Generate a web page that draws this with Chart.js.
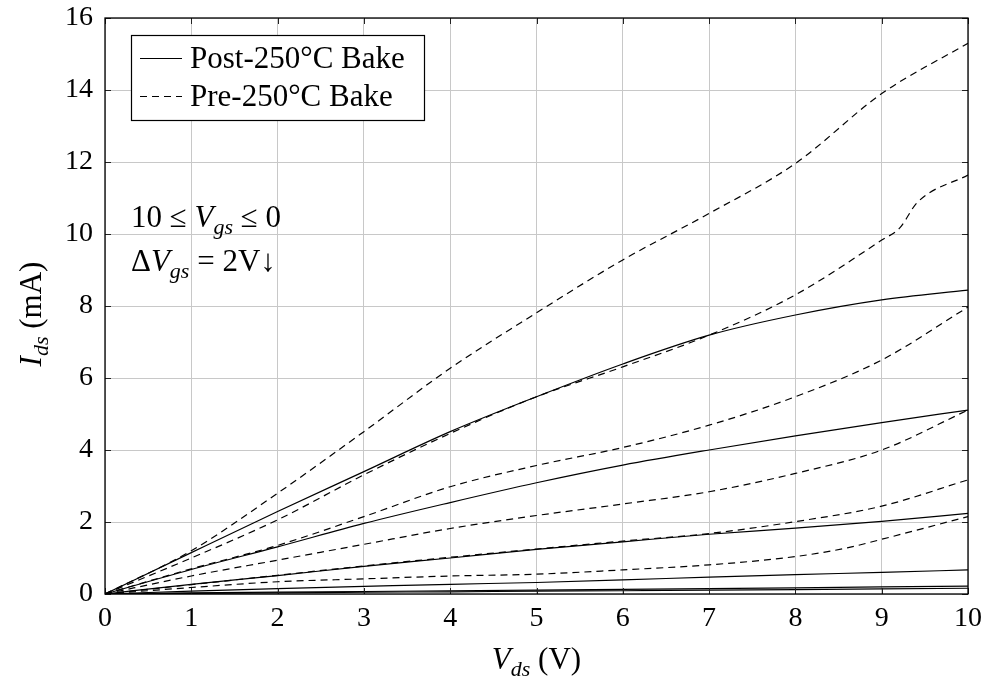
<!DOCTYPE html>
<html>
<head>
<meta charset="utf-8">
<script src="https://cdn.jsdelivr.net/npm/chart.js@4.4.0/dist/chart.umd.min.js"></script>
<style>
  html, body { margin: 0; padding: 0; background: #fff; }
</style>
</head>
<body>
<canvas id="grafik" width="989" height="678"></canvas>
<script>
// Tegangan drain-source (V)
const vds = [0, 1, 2, 3, 4, 5, 6, 7, 8, 9, 10];
const vdsPre2 = [0, 1, 2, 3, 4, 5, 6, 7, 8, 9, 9.21, 9.41, 10];
const vdsPre10 = [0, 1, 2, 3, 4, 5, 6, 7, 8, 8.6, 9, 10];

// Setelah bake 250°C (garis penuh), Vgs = 0, -2, ... -10
const post0 = [0, 1.15, 2.29, 3.40, 4.51, 5.48, 6.39, 7.19, 7.75, 8.17, 8.44];
const post2 = [0, 0.68, 1.31, 1.96, 2.54, 3.09, 3.58, 4.00, 4.39, 4.76, 5.11];
const post4 = [0, 0.27, 0.51, 0.77, 1.00, 1.24, 1.45, 1.66, 1.83, 2.02, 2.24];
const post6 = [0, 0.08, 0.15, 0.21, 0.27, 0.32, 0.39, 0.47, 0.54, 0.60, 0.67];
const post8 = [0, 0.03, 0.05, 0.07, 0.09, 0.11, 0.13, 0.15, 0.17, 0.20, 0.22];
const post10 = [0, 0.02, 0.03, 0.05, 0.06, 0.08, 0.09, 0.11, 0.12, 0.14, 0.16];

// Sebelum bake 250°C (garis putus-putus)
const pre0 = [0, 1.2, 2.8, 4.51, 6.27, 7.81, 9.28, 10.57, 11.96, 13.9, 15.3];
const pre2 = [0, 1.0, 2.06, 3.31, 4.46, 5.48, 6.31, 7.19, 8.31, 9.83, 10.17, 10.87, 11.64];
const pre4 = [0, 0.7, 1.35, 2.15, 2.98, 3.57, 4.07, 4.69, 5.48, 6.5, 7.97];
const pre6 = [0, 0.5, 0.94, 1.38, 1.82, 2.18, 2.5, 2.84, 3.35, 4.0, 5.11];
const pre8 = [0, 0.26, 0.52, 0.78, 1.02, 1.25, 1.47, 1.68, 2.01, 2.44, 3.17];
const pre10 = [0, 0.18, 0.34, 0.42, 0.5, 0.55, 0.67, 0.81, 1.04, 1.28, 1.52, 2.15];

const xTicks = [0, 1, 2, 3, 4, 5, 6, 7, 8, 9, 10];
const yTicks = [0, 2, 4, 6, 8, 10, 12, 14, 16];

const legendLabels = ['Post-250°C Bake', 'Pre-250°C Bake'];

const FONT = "'Liberation Serif', 'Times New Roman', serif";
const DASH = [7, 5];
const TEKS = 31; // ukuran huruf legenda, keterangan dan judul sumbu

function gabung(xs, ys) {
  return xs.map((x, i) => ({ x: x, y: ys[i] }));
}

function seri(xs, ys, putus) {
  return {
    data: gabung(xs, ys),
    borderColor: '#000',
    borderWidth: 1.2,
    borderDash: putus ? DASH : [],
    pointRadius: 0,
    showLine: true,
    fill: false,
    cubicInterpolationMode: 'monotone'
  };
}

// Menulis teks dengan huruf miring dan subskrip
function tulisRich(ctx, bagian, x, y, size, align) {
  const subSize = Math.round(size * 0.7);
  const fontOf = (s) => {
    if (s === 'i') return `italic ${size}px ${FONT}`;
    if (s === 's') return `italic ${subSize}px ${FONT}`;
    return `${size}px ${FONT}`;
  };
  let total = 0;
  const lebar = bagian.map(([t, s]) => {
    ctx.font = fontOf(s);
    const w = ctx.measureText(t).width;
    total += w;
    return w;
  });
  let cx = align === 'center' ? x - total / 2 : x;
  ctx.textAlign = 'left';
  ctx.textBaseline = 'alphabetic';
  bagian.forEach(([t, s], i) => {
    ctx.font = fontOf(s);
    ctx.fillText(t, cx, s === 's' ? y + size * 0.22 : y);
    cx += lebar[i];
  });
}

const hiasan = {
  id: 'hiasan',
  afterDraw(chart) {
    const ctx = chart.ctx;
    const a = chart.chartArea;
    const sx = chart.scales.x, sy = chart.scales.y;
    ctx.save();

    // tanda tick di dalam bingkai
    ctx.strokeStyle = '#222';
    ctx.lineWidth = 1;
    const tl = 6;
    xTicks.forEach(v => {
      const px = Math.round(sx.getPixelForValue(v)) + 0.5;
      ctx.beginPath();
      ctx.moveTo(px, a.bottom); ctx.lineTo(px, a.bottom - tl);
      ctx.moveTo(px, a.top); ctx.lineTo(px, a.top + tl);
      ctx.stroke();
    });
    yTicks.forEach(v => {
      const py = Math.round(sy.getPixelForValue(v)) + 0.5;
      ctx.beginPath();
      ctx.moveTo(a.left, py); ctx.lineTo(a.left + tl, py);
      ctx.moveTo(a.right, py); ctx.lineTo(a.right - tl, py);
      ctx.stroke();
    });

    // bingkai
    ctx.strokeStyle = '#000';
    ctx.lineWidth = 1.3;
    ctx.strokeRect(a.left, a.top, a.right - a.left, a.bottom - a.top);

    // legenda
    const bx = 131, by = 35, bw = 293, bh = 85;
    ctx.fillStyle = '#fff';
    ctx.fillRect(bx, by, bw, bh);
    ctx.lineWidth = 1.2;
    ctx.strokeRect(bx + 0.5, by + 0.5, bw, bh);
    ctx.fillStyle = '#000';
    const baris = [{ y: 58, dash: [] }, { y: 96, dash: DASH }];
    baris.forEach((b, i) => {
      ctx.setLineDash(b.dash);
      ctx.beginPath();
      ctx.moveTo(140, b.y + 0.5);
      ctx.lineTo(182, b.y + 0.5);
      ctx.stroke();
      ctx.setLineDash([]);
      ctx.font = `${TEKS}px ${FONT}`;
      ctx.textAlign = 'left';
      ctx.textBaseline = 'alphabetic';
      ctx.fillText(legendLabels[i], 190, b.y + 10);
    });

    // keterangan Vgs
    tulisRich(ctx, [['10 ≤ ', 'n'], ['V', 'i'], ['gs', 's'], [' ≤ 0', 'n']], 131, 227, TEKS, 'left');
    tulisRich(ctx, [['Δ', 'n'], ['V', 'i'], ['gs', 's'], [' = 2V↓', 'n']], 131, 271, TEKS, 'left');

    // judul sumbu
    tulisRich(ctx, [['V', 'i'], ['ds', 's'], [' (V)', 'n']], (a.left + a.right) / 2, 669, TEKS, 'center');
    ctx.save();
    ctx.translate(41, 314);
    ctx.rotate(-Math.PI / 2);
    tulisRich(ctx, [['I', 'i'], ['ds', 's'], [' (mA)', 'n']], 0, 0, TEKS, 'center');
    ctx.restore();

    ctx.restore();
  }
};

new Chart(document.getElementById('grafik'), {
  type: 'scatter',
  data: {
    datasets: [
      seri(vds, post0, false),
      seri(vds, post2, false),
      seri(vds, post4, false),
      seri(vds, post6, false),
      seri(vds, post8, false),
      seri(vds, post10, false),
      seri(vds, pre0, true),
      seri(vdsPre2, pre2, true),
      seri(vds, pre4, true),
      seri(vds, pre6, true),
      seri(vds, pre8, true),
      seri(vdsPre10, pre10, true)
    ]
  },
  plugins: [hiasan],
  options: {
    responsive: false,
    animation: false,
    devicePixelRatio: 1,
    layout: { padding: { top: 18, right: 21, left: 0, bottom: 0 } },
    plugins: {
      legend: { display: false },
      tooltip: { enabled: false }
    },
    scales: {
      x: {
        type: 'linear',
        min: 0, max: 10,
        afterFit(scale) {
          scale.height = 84;
          scale.paddingLeft = 0;
          scale.paddingRight = 0;
        },
        afterBuildTicks(scale) { scale.ticks = xTicks.map(v => ({ value: v })); },
        ticks: { color: '#000', padding: 8, font: { family: FONT, size: 28 } },
        grid: { color: '#c8c8c8', lineWidth: 1, drawTicks: false },
        border: { display: false }
      },
      y: {
        type: 'linear',
        min: 0, max: 16,
        afterFit(scale) {
          scale.width = 105;
          scale.paddingTop = 0;
          scale.paddingBottom = 0;
        },
        afterBuildTicks(scale) { scale.ticks = yTicks.map(v => ({ value: v })); },
        ticks: { color: '#000', padding: 12, font: { family: FONT, size: 28 } },
        grid: { color: '#c8c8c8', lineWidth: 1, drawTicks: false },
        border: { display: false }
      }
    }
  }
});
</script>
</body>
</html>
